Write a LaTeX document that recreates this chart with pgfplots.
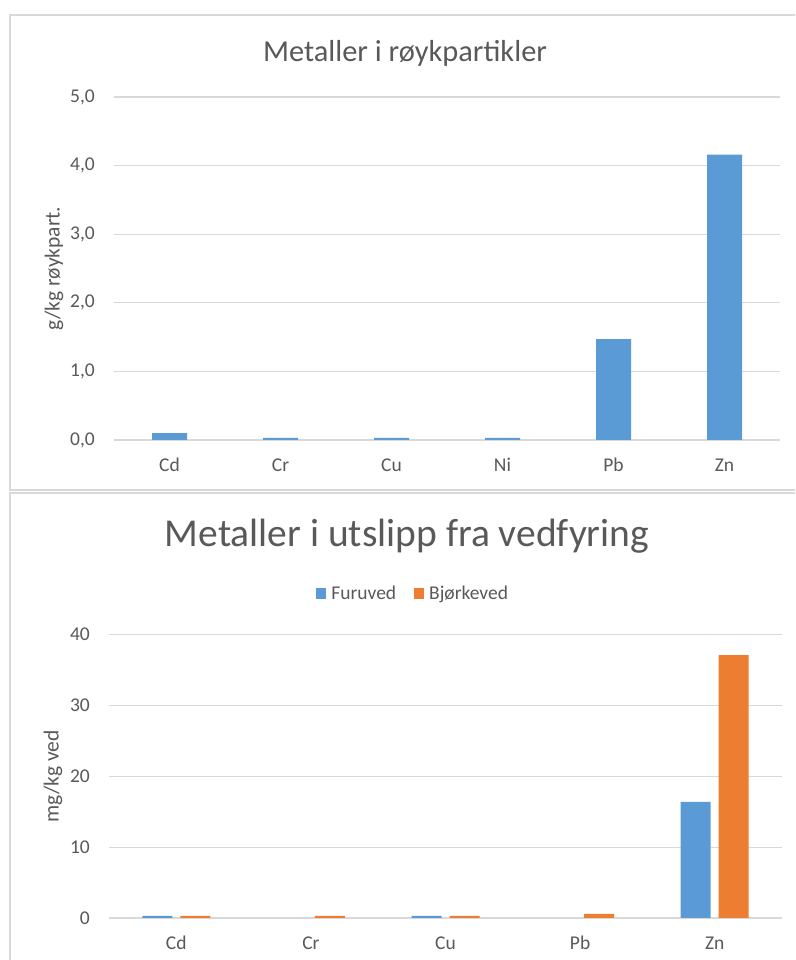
\documentclass[border=0pt]{standalone}
\usepackage{fontspec}
\setmainfont{Carlito}
\usepackage{pgfplots}
\pgfplotsset{compat=1.18}

\definecolor{barblue}{HTML}{5B9BD5}
\definecolor{barorange}{HTML}{ED7D31}
\definecolor{gridgray}{HTML}{D9D9D9}
\definecolor{txtgray}{HTML}{595959}

\pgfplotsset{
  columnchart/.style={
    scale only axis,
    ybar,
    axis line style={draw=none},
    major tick length=0pt,
    ymajorgrids,
    grid style={gridgray, line width=1.2pt},
    ymin=0,
    tick label style={font=\fontsize{19.5}{23}\selectfont, text=txtgray},
    /pgf/number format/assume math mode=true,
    yticklabel style={anchor=east, inner sep=0pt, xshift=-19pt},
    xticklabel style={anchor=center, inner sep=0pt, yshift=-25pt},
    every axis y label/.style={at={(axis description cs:0,0.5)}, rotate=90,
      anchor=center, font=\fontsize{21.5}{25}\selectfont, text=txtgray},
  },
}

\begin{document}
\begin{tikzpicture}[x=1pt,y=1pt]
\clip (0,0) rectangle (795,960);
\fill[white] (0,0) rectangle (795,960);

% chart frames
\draw[gridgray, line width=1.3pt] (10,470) rectangle (830,945);
\draw[gridgray, line width=1.3pt] (10,-20) rectangle (830,467);

% --- metals in smoke particles ---
\node[anchor=base, text=txtgray, font=\fontsize{30.4}{36}\selectfont] at (405,898) {Metaller i røykpartikler};
\begin{axis}[
  columnchart,
  at={(114pt,520pt)}, anchor=south west,
  width=666pt, height=343pt,
  xmin=-0.5, xmax=5.5,
  ymax=5,
  ytick={0,1,2,3,4,5},
  yticklabel style={/pgf/number format/.cd, fixed, fixed zerofill, precision=1, use comma},
  xtick={0,1,2,3,4,5},
  xticklabels={Cd,Cr,Cu,Ni,Pb,Zn},
  bar width=35pt,
  ylabel={g/kg røykpart.},
  ylabel style={yshift=60pt},
]
\addplot[fill=barblue, draw=none] coordinates {
  (0,0.10) (1,0.03) (2,0.03) (3,0.03) (4,1.47) (5,4.16)
};
\end{axis}

% --- metals in wood-burning emissions ---
\node[anchor=base, text=txtgray, font=\fontsize{39.5}{46}\selectfont] at (407,413) {Metaller i utslipp fra vedfyring};
\begin{axis}[
  columnchart,
  ybar=8pt,
  at={(109pt,42pt)}, anchor=south west,
  width=673pt, height=283.3pt,
  xmin=-0.5, xmax=4.5,
  ymax=40,
  ytick={0,10,20,30,40},
  xtick={0,1,2,3,4},
  xticklabels={Cd,Cr,Cu,Pb,Zn},
  bar width=30pt,
  ylabel={mg/kg ved},
  ylabel style={yshift=56pt},
  legend columns=2,
  legend style={draw=none, fill=none, at={(0.452,1.147)}, anchor=center,
    font=\fontsize{19.5}{23}\selectfont, text=txtgray,
    /tikz/every even column/.append style={column sep=16pt}},
  legend image code/.code={\fill[#1, draw=none] (0pt,-5.5pt) rectangle (10pt,5.5pt); \path (13pt,0pt);},
]
\addplot[fill=barblue, draw=none] coordinates {
  (0,0.3) (2,0.3) (4,16.4)
};
\addplot[fill=barorange, draw=none] coordinates {
  (0,0.3) (1,0.3) (2,0.3) (3,0.6) (4,37.1)
};
\legend{Furuved, Bjørkeved}
\end{axis}
\end{tikzpicture}
\end{document}
